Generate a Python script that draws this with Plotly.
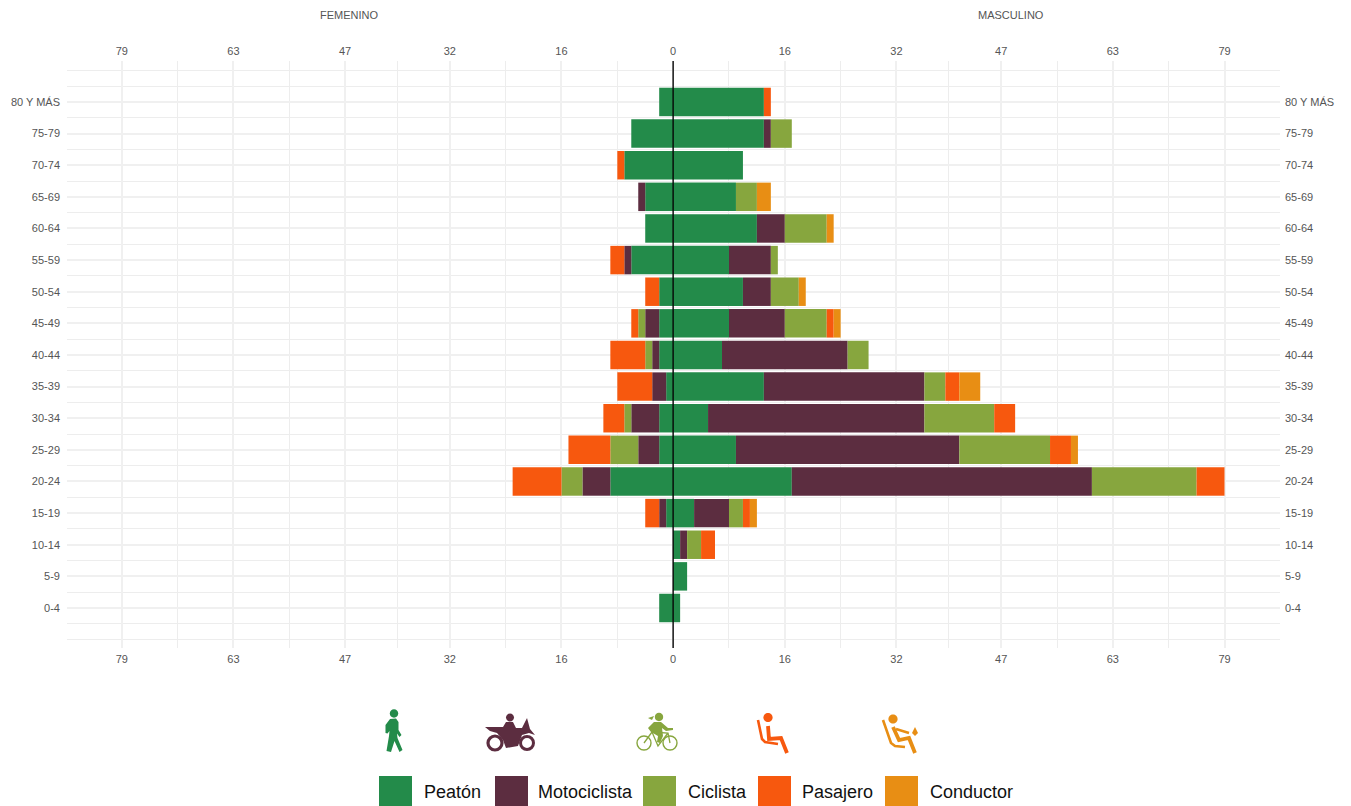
import re, math
import plotly.graph_objects as go

edades = ["0-4","5-9","10-14","15-19","20-24","25-29","30-34","35-39","40-44","45-49","50-54","55-59","60-64","65-69","70-74","75-79","80 Y MÁS"]
modos = ["Peatón","Motociclista","Ciclista","Pasajero","Conductor"]
colores = ["#238b4a","#5c2d40","#87a63e","#f7580e","#e88e14"]

fem_peaton = [2,0,0,1,9,2,2,1,2,2,2,6,4,4,7,6,2]
fem_moto   = [0,0,0,1,4,3,4,2,1,2,0,1,0,1,0,0,0]
fem_cicl   = [0,0,0,0,3,4,1,0,1,1,0,0,0,0,0,0,0]
fem_pasa   = [0,0,0,2,7,6,3,5,5,1,2,2,0,0,1,0,0]
fem_cond   = [0,0,0,0,0,0,0,0,0,0,0,0,0,0,0,0,0]

mas_peaton = [1,2,1,3,17,9,5,13,7,8,10,8,12,9,10,13,13]
mas_moto   = [0,0,1,5,43,32,31,23,18,8,4,6,4,0,0,1,0]
mas_cicl   = [0,0,2,2,15,13,10,3,3,6,4,1,6,3,0,3,0]
mas_pasa   = [0,0,2,1,4,3,3,2,0,1,0,0,0,0,0,0,1]
mas_cond   = [0,0,0,1,0,1,0,3,0,1,1,0,1,2,0,0,0]

tick_vals = [0,16,32,47,63,79]
tick_text = ["0","16","32","47","63","79"]
menores = [8,24,39.5,55,71]

W,H = 1351,806
L,R,T,B = 67,71,61,158
pos = list(range(len(edades)))
xticks = [-v for v in tick_vals[:0:-1]] + tick_vals
xtext = tick_text[:0:-1] + tick_text

fig = go.Figure()
for nombre,color,f,m in zip(modos,colores,[fem_peaton,fem_moto,fem_cicl,fem_pasa,fem_cond],[mas_peaton,mas_moto,mas_cicl,mas_pasa,mas_cond]):
    fig.add_bar(y=pos,x=[-v for v in f],orientation="h",marker=dict(color=color,line_width=0),name=nombre,showlegend=False,customdata=edades,hovertemplate="%{customdata}: %{x}<extra>"+nombre+" femenino</extra>")
    fig.add_bar(y=pos,x=m,orientation="h",marker=dict(color=color,line_width=0),name=nombre,showlegend=False,customdata=edades,hovertemplate="%{customdata}: %{x}<extra>"+nombre+" masculino</extra>")
fig.add_scatter(x=[0],y=[0],xaxis="x2",yaxis="y2",mode="markers",marker=dict(opacity=0),showlegend=False,hoverinfo="skip")

tick_font = dict(family="Liberation Sans, Arial, sans-serif",size=11,color="#555555")
rx = [-86.85,86.95]; ry = [-1.265,17.295]
grid = dict(showgrid=True,gridcolor="#f0f0f0",gridwidth=1.6,zeroline=False,showline=False,ticks="",tickfont=tick_font,
            minor=dict(showgrid=True,gridcolor="#ededed",gridwidth=1,ticks=""))
xg = dict(grid); xg["minor"] = dict(grid["minor"],tickmode="array",tickvals=[-v for v in menores]+menores)
yg = dict(grid); yg["minor"] = dict(grid["minor"],tick0=0,dtick=0.5)
fig.update_layout(
    width=W,height=H,margin=dict(l=L,r=R,t=T,b=B,autoexpand=False),paper_bgcolor="white",plot_bgcolor="white",
    barmode="relative",bargap=0.1,showlegend=False,
    font=dict(family="Liberation Sans, Arial, sans-serif"),
    xaxis=dict(**xg,range=rx,tickmode="array",tickvals=xticks,ticktext=xtext,side="bottom",ticklabelstandoff=3),
    yaxis=dict(**yg,range=ry,tickmode="array",tickvals=pos,ticktext=edades,ticklabelstandoff=6),
    xaxis2=dict(range=rx,overlaying="x",side="top",anchor="y",tickmode="array",tickvals=xticks,ticktext=xtext,tickfont=tick_font,showgrid=False,zeroline=False,ticks="",ticklabelstandoff=3),
    yaxis2=dict(range=ry,overlaying="y",side="right",anchor="x",tickmode="array",tickvals=pos,ticktext=edades,tickfont=tick_font,showgrid=False,zeroline=False,ticks="",ticklabelstandoff=4),
)

pw,ph = W-L-R,H-T-B
def px(x): return (x-L)/pw
def py(y): return 1-(y-T)/ph
def conv(d):
    toks = re.findall(r"[MLCZ]|-?[\d.]+",d); out=[]; isx=True
    for t in toks:
        if t in "MLCZ": out.append(t); isx=True
        else:
            v=float(t); out.append(f"{px(v) if isx else py(v):.5f}"); isx=not isx
    s="";prev_num=False
    for t in out:
        if t in "MLCZ": s+=t; prev_num=False
        else:
            s+=("," if prev_num else "")+t; prev_num=True
    return s
def circ(cx,cy,r):
    k=0.5523*r
    return f"M{cx-r} {cy}C{cx-r} {cy-k} {cx-k} {cy-r} {cx} {cy-r}C{cx+k} {cy-r} {cx+r} {cy-k} {cx+r} {cy}C{cx+r} {cy+k} {cx+k} {cy+r} {cx} {cy+r}C{cx-k} {cy+r} {cx-r} {cy+k} {cx-r} {cy}Z"
def fill(d,c):
    fig.add_shape(type="path",xref="paper",yref="paper",path=conv(d),fillcolor=c,line_width=0,layer="above")
def stroke(d,c,w):
    fig.add_shape(type="path",xref="paper",yref="paper",path=conv(d),fillcolor="rgba(0,0,0,0)",line=dict(color=c,width=w),layer="above")

# eje central
fig.add_shape(type="line",x0=0,x1=0,y0=0,y1=1,xref="x",yref="paper",line=dict(color="rgba(0,0,0,0.85)",width=1.6),layer="above")

# peatón
c=colores[0]
fill(circ(394,713.5,4.2),c)
fill("M390 719L396 718.5L398.5 722L398.5 730L401.5 735L399.5 737L397 733.5L397.5 738L402.5 750L399.5 752L394.5 741L391 752L386.5 751L389 736L389.5 731L387.5 733.5L385.5 733L385.5 725Z",c)
# moto
c=colores[1]
stroke(circ(495,743,7),c,3.2)
stroke(circ(527,743,6.5),c,3)
fill(circ(510,717.5,4),c)
fill("M506 722L513 722L516 728L522 728L527 718L530 729L535 735L529 733L522 735L518 746L506 748L503 740L497 733L490 731L485 727L503 727Z",c)
# bicicleta
c=colores[2]
stroke(circ(644,743,7),c,1.4)
stroke(circ(670,743,7),c,1.4)
fill(circ(659,717,4.2),c)
fill("M654 716L648 718L652 720Z",c)
fill("M654 722L661 722L668 728L673 728L673 730L666 731L662 728L663 736L660 743L657 742L658 736L651 732L648 728Z",c)
stroke("M644 743L652 732L668 733L670 743M652 732L658 746L668 733",c,1.3)
# pasajero
c=colores[3]
fill(circ(768,717.5,4.6),c)
stroke("M758 720L762 739L765 742L778 744",c,2.6)
stroke("M768 726L769 739L781 738L787 753",c,3.8)
# conductor
c=colores[4]
fill(circ(893,719,4.6),c)
stroke("M883 720L891 743L895 746L905 747",c,2.6)
stroke("M893 727L899 740L909 738L915 753",c,3.8)
stroke("M896 729L909 733",c,2.6)
fill("M912 733L915 727L918 733L915 736Z",c)

# títulos de panel
for txt,x in [("FEMENINO",349.5),("MASCULINO",1011)]:
    fig.add_annotation(text=txt,xref="paper",yref="paper",x=px(x),y=py(15),xanchor="center",yanchor="middle",showarrow=False,font=dict(family="Liberation Sans, Arial, sans-serif",size=11,color="#555555"))

# leyenda
sw_x = [379,495,643,758,885]
tx_x = [422,536,686,800,928]
for nombre,color,a,t in zip(modos,colores,sw_x,tx_x):
    fig.add_shape(type="rect",xref="paper",yref="paper",x0=px(a),x1=px(a+33),y0=py(776),y1=py(806),fillcolor=color,line_width=0)
    fig.add_annotation(text=nombre,xref="paper",yref="paper",x=px(t),y=py(792),xanchor="left",yanchor="middle",showarrow=False,font=dict(family="Liberation Sans, Arial, sans-serif",size=18,color="#111111"))

fig.write_html("out.html",config=dict(displayModeBar=False),post_script="document.body.style.margin='0';document.documentElement.style.overflow='hidden';")
